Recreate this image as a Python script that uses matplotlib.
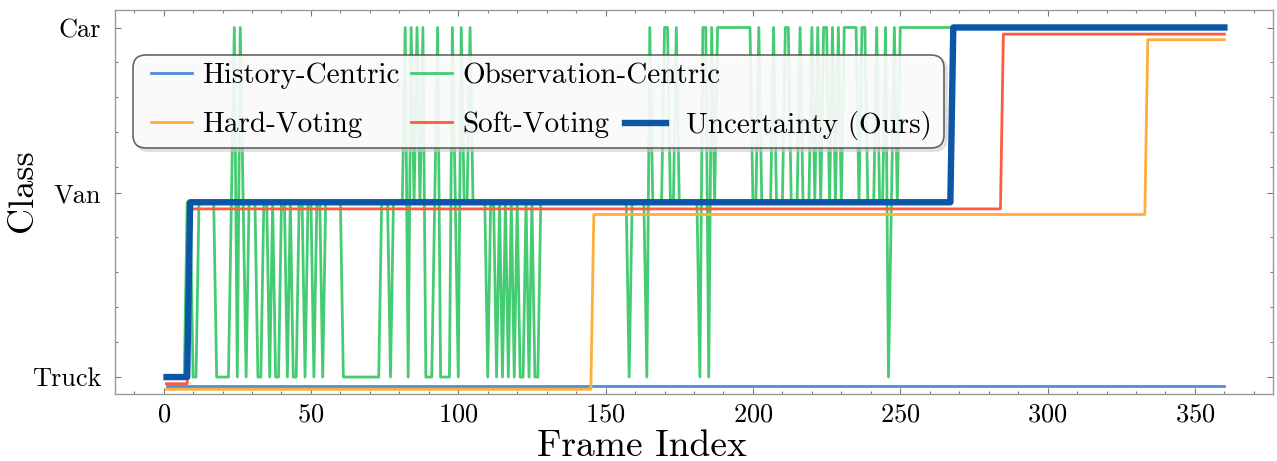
import numpy as np
import matplotlib
matplotlib.use("Agg")
import matplotlib.pyplot as plt
from matplotlib.lines import Line2D
from matplotlib.ticker import MultipleLocator, FixedLocator
from matplotlib.transforms import Bbox
from matplotlib.offsetbox import TextArea

plt.rcParams['font.family'] = ['cmr10', 'DejaVu Serif']
plt.rcParams['axes.formatter.use_mathtext'] = True
plt.rcParams['axes.unicode_minus'] = False

# ---------------- data ----------------
class_names = ["Truck", "Van", "Car"]
n_frames = 360
frames = np.arange(1, n_frames + 1)

# run-length encoded class sequences: (class index, number of frames)
history_runs = [(0, 360)]
hard_runs = [(0, 145), (1, 188), (2, 27)]
soft_runs = [(0, 8), (1, 276), (2, 76)]
uncert_runs = [(0, 8), (1, 259), (2, 93)]
observation_runs = [
    (0, 7), (1, 2), (0, 2), (1, 6), (0, 5), (1, 1), (2, 1), (0, 1), (2, 1), (1, 1),
    (0, 1), (1, 3), (0, 2), (1, 2), (0, 1), (1, 1), (0, 2), (1, 2), (0, 1), (1, 1),
    (0, 2), (1, 2), (0, 1), (1, 2), (0, 1), (1, 2), (0, 1), (1, 6), (0, 13), (1, 3),
    (0, 1), (1, 4), (2, 1), (0, 1), (2, 1), (1, 1), (2, 1), (1, 1), (2, 1), (0, 3),
    (1, 1), (2, 1), (0, 4), (2, 1), (1, 1), (0, 1), (2, 1), (1, 2), (2, 1), (1, 5),
    (0, 1), (1, 2), (0, 1), (1, 1), (0, 1), (1, 1), (0, 1), (1, 1), (0, 1), (1, 1),
    (0, 2), (1, 1), (0, 1), (1, 1), (0, 2), (1, 30), (0, 1), (1, 5), (0, 1), (2, 1),
    (1, 4), (2, 2), (1, 2), (2, 1), (1, 7), (0, 1), (2, 2), (0, 1), (2, 1), (1, 1),
    (2, 12), (1, 2), (2, 1), (1, 4), (2, 1), (1, 3), (2, 2), (1, 3), (2, 1), (1, 3),
    (2, 1), (1, 1), (2, 1), (1, 1), (2, 2), (1, 1), (2, 1), (1, 1), (2, 1), (1, 1),
    (2, 5), (1, 1), (2, 2), (1, 3), (2, 1), (1, 2), (2, 1), (0, 1), (1, 1), (2, 1),
    (1, 1), (2, 111),
]


def expand(runs):
    return np.concatenate([np.full(n, v, dtype=float) for v, n in runs])


history = expand(history_runs)
hard = expand(hard_runs)
soft = expand(soft_runs)
uncert = expand(uncert_runs)
observation = expand(observation_runs)

# ---------------- style ----------------
c_hist = "#4A8FD8"
c_obs = "#45CC72"
c_hard = "#FFAD3B"
c_soft = "#FF5B3E"
c_unc = "#0B56A6"

fig = plt.figure(figsize=(12.77, 4.61), dpi=100)
ax = fig.add_axes([115 / 1277, 1 - 394 / 461, (1273 - 115) / 1277, (394 - 10) / 461])

l_hist, = ax.plot(frames, history - 0.05, color=c_hist, lw=2.0, label="History-Centric", zorder=2)
l_obs, = ax.plot(frames, observation, color=c_obs, lw=2.0, label="Observation-Centric", zorder=1)
l_hard, = ax.plot(frames, hard - 0.07, color=c_hard, lw=2.0, label="Hard-Voting", zorder=3)
l_soft, = ax.plot(frames, soft - 0.038, color=c_soft, lw=2.0, label="Soft-Voting", zorder=4)
l_unc, = ax.plot(frames, uncert, color=c_unc, lw=4.6, label="Uncertainty (Ours)", zorder=5)

ax.set_xlim(-16.5, 376.5)
ax.set_ylim(-0.097, 2.1)

ax.xaxis.set_major_locator(MultipleLocator(50))
ax.xaxis.set_minor_locator(MultipleLocator(10))
ax.yaxis.set_major_locator(FixedLocator([0, 1.055, 1.995]))
ax.set_yticklabels(class_names)
ax.yaxis.set_minor_locator(FixedLocator([0.2, 0.4, 0.6, 0.8, 1.2, 1.4, 1.6, 1.8]))

ax.tick_params(which="both", direction="in", top=True, right=True, color="#7a7a7a", width=0.8)
ax.tick_params(which="major", length=4)
ax.tick_params(which="minor", length=2.2)
ax.tick_params(axis="x", which="major", labelsize=19, pad=6)
ax.tick_params(axis="y", which="major", labelsize=19, pad=10)
for s in ax.spines.values():
    s.set_color("#9a9a9a")
    s.set_linewidth(1.0)

ax.set_xlabel("Frame Index", fontsize=27)
ax.set_ylabel("Class", fontsize=26)
ax.xaxis.set_label_coords(0.455, -0.092)
ax.yaxis.set_label_coords(-0.066, 0.529)

dummy = Line2D([], [], color="none")
handles = [l_hist, l_hard, l_obs, l_soft, dummy, l_unc]
labels = ["History-Centric", "Hard-Voting", "Observation-Centric", "Soft-Voting", "", "Uncertainty (Ours)"]
leg = ax.legend(handles, labels, ncol=3, loc="upper left", bbox_to_anchor=(0.0155, 0.883),
                borderaxespad=0, fontsize=21, frameon=True, fancybox=True,
                shadow={"color": "0.8", "alpha": 0.5}, framealpha=0.82,
                handlelength=1.4, handletextpad=0.35, columnspacing=0.55,
                labelspacing=0.76, borderpad=0.27)
leg.get_frame().set_edgecolor("#444444")
leg.get_frame().set_linewidth(1.2)
leg.legendPatch.set_boxstyle("round,pad=0,rounding_size=0.45")


def _adjust(box, left=0.0, right=0.0, frac=1.0):
    orig = box.get_bbox

    def gb(renderer):
        b = orig(renderer)
        return Bbox.from_bounds(b.x0 - left, b.y0, b.width * frac + left + right, b.height)
    box.get_bbox = gb


for col in leg._legend_handle_box.get_children():
    for row in col.get_children():
        for c in row.get_children():
            if isinstance(c, TextArea):
                t = c.get_text()
                if t == "Observation-Centric":
                    _adjust(c, frac=0.5)
                elif t == "History-Centric":
                    _adjust(c, right=-4)
                elif t == "Uncertainty (Ours)":
                    _adjust(c, left=9)

_adjust(leg._legend_handle_box, left=10, right=5)

fig.savefig("out.png", dpi=100)
